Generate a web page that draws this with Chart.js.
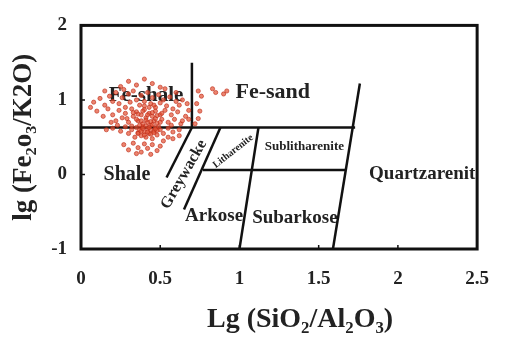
<!DOCTYPE html>
<html>
<head>
<meta charset="utf-8">
<script src="https://cdn.jsdelivr.net/npm/chart.js@4/dist/chart.umd.min.js"></script>
<style>
    html, body { margin: 0; padding: 0; background: #fff; }
    #wrap { width: 508px; height: 338px; }
</style>
</head>
<body>
<div id="wrap"><canvas id="herronChart"></canvas></div>
<script>
// Samples: lg(SiO2/Al2O3), lg(Fe2O3/K2O)
const sampleX = [
    0.08, 0.12, 0.15, 0.18, 0.20, 0.22, 0.24, 0.26, 0.28, 0.30, 0.31, 0.33, 0.35, 0.37, 0.38, 0.40, 0.42,
    0.44, 0.45, 0.47, 0.49, 0.50, 0.52, 0.54, 0.56, 0.58, 0.60, 0.62, 0.64, 0.25, 0.35, 0.45, 0.30,
    0.10, 0.14, 0.17, 0.20, 0.22, 0.24, 0.26, 0.28, 0.30, 0.32, 0.33, 0.35, 0.36, 0.38, 0.39, 0.40, 0.41,
    0.42, 0.43, 0.44, 0.45, 0.46, 0.47, 0.48, 0.50, 0.51, 0.53, 0.55, 0.57, 0.59, 0.61, 0.63, 0.66, 0.68,
    0.20, 0.25, 0.28, 0.30, 0.32, 0.34, 0.35, 0.36, 0.37, 0.38, 0.39, 0.40, 0.41, 0.42, 0.43, 0.44, 0.45,
    0.46, 0.47, 0.48, 0.50, 0.52, 0.55, 0.58, 0.62,
    0.27, 0.30, 0.33, 0.36, 0.38, 0.40, 0.42, 0.45, 0.48, 0.50, 0.44, 0.35,
    0.74, 0.76, 0.73, 0.75, 0.74, 0.72, 0.83, 0.85, 0.90, 0.92,
    0.36, 0.38, 0.40, 0.42, 0.44, 0.46, 0.48, 0.37, 0.39, 0.41, 0.43, 0.45, 0.47, 0.49, 0.35,
    0.38, 0.41, 0.44, 0.47, 0.50, 0.33, 0.36, 0.39, 0.42, 0.45, 0.48, 0.51, 0.40, 0.43, 0.46,
    0.06, 0.15, 0.19, 0.27, 0.32, 0.53, 0.57, 0.60, 0.64, 0.67, 0.23, 0.29, 0.55, 0.16, 0.52,
    0.58, 0.62, 0.68, 0.40, 0.50
];
const sampleY = [
    0.97, 1.02, 0.93, 1.05, 0.98, 1.10, 0.95, 1.03, 0.90, 1.08, 0.97, 1.12, 1.00, 0.93, 1.06, 0.98, 1.10,
    0.95, 1.03, 0.90, 1.07, 0.96, 1.00, 0.92, 1.04, 0.88, 0.98, 0.93, 1.00, 1.18, 1.20, 1.22, 1.25,
    0.85, 0.78, 0.88, 0.80, 0.72, 0.86, 0.76, 0.82, 0.70, 0.88, 0.78, 0.84, 0.72, 0.80, 0.68, 0.87, 0.76,
    0.70, 0.82, 0.66, 0.78, 0.72, 0.85, 0.69, 0.80, 0.74, 0.86, 0.70, 0.80, 0.74, 0.84, 0.68, 0.78, 0.86,
    0.62, 0.58, 0.64, 0.55, 0.60, 0.50, 0.63, 0.56, 0.60, 0.52, 0.64, 0.57, 0.50, 0.61, 0.55, 0.60, 0.48,
    0.58, 0.63, 0.53, 0.60, 0.55, 0.62, 0.57, 0.60,
    0.40, 0.33, 0.42, 0.36, 0.30, 0.41, 0.35, 0.40, 0.32, 0.38, 0.27, 0.28,
    1.12, 1.05, 0.95, 0.85, 0.75, 0.68, 1.15, 1.10, 1.08, 1.12,
    0.55, 0.58, 0.53, 0.57, 0.54, 0.56, 0.59, 0.66, 0.62, 0.65, 0.63, 0.67, 0.61, 0.64, 0.74,
    0.72, 0.73, 0.71, 0.75, 0.70, 0.83, 0.81, 0.85, 0.80, 0.83, 0.79, 0.82, 0.92, 0.90, 0.93,
    0.90, 1.12, 0.70, 1.14, 0.65, 1.15, 0.66, 1.10, 0.72, 0.95, 0.66, 0.75, 0.50, 0.60, 0.45,
    0.48, 0.52, 0.74, 1.28, 1.17
];

// Field boundaries, each as [start, end]
const boundaryX = [
    [0.00, 1.73],   // Fe-shale / Shale
    [0.70, 0.70],   // Fe-shale / Fe-sand
    [1.76, 1.59],   // Quartzarenite
    [0.77, 1.67],   // Litharenite / Arkose
    [1.12, 1.00],   // Sublitharenite / Subarkose
    [0.70, 0.54],   // Greywacke left
    [0.88, 0.65]    // Greywacke right
];
const boundaryY = [
    [0.63, 0.63],
    [0.63, 1.50],
    [1.22, -1.00],
    [0.06, 0.06],
    [0.63, -1.00],
    [0.63, -0.04],
    [0.63, -0.47]
];

// Field names and where they sit on the diagram
const fieldNames = ['Fe-shale', 'Fe-sand', 'Shale', 'Greywacke', 'Litharenite', 'Sublitharenite', 'Quartzarenite', 'Arkose', 'Subarkose'];
const fieldX = [0.41, 1.21, 0.29, 0.65, 0.96, 1.41, 2.18, 0.84, 1.35];
const fieldY = [1.06, 1.10, 0.00, 0.00, 0.31, 0.38, 0.00, -0.56, -0.59];

const xMin = 0, xMax = 2.5, xStep = 0.5;
const yMin = -1, yMax = 2, yStep = 1;

// label look (size px, rotation deg)
const fieldStyle = {
    'Fe-shale': [21, 0], 'Fe-sand': [22, 0], 'Shale': [20, 0],
    'Greywacke': [16, -60], 'Litharenite': [10, -38], 'Sublitharenite': [13, 0],
    'Quartzarenite': [19, 0], 'Arkose': [19, 0], 'Subarkose': [19, 0]
};

const serif = "'Liberation Serif', 'DejaVu Serif', serif";

const samplePoints = sampleX.map((x, i) => ({ x: x, y: sampleY[i] }));

const boundarySets = boundaryX.map((xs, i) => ({
    data: [{ x: xs[0], y: boundaryY[i][0] }, { x: xs[1], y: boundaryY[i][1] }],
    showLine: true,
    borderColor: '#111',
    borderWidth: 2.5,
    pointRadius: 0,
    order: 2
}));

// frame, inward ticks and field names
const diagramPlugin = {
    id: 'diagram',
    beforeDatasetsDraw(chart) {
        const { ctx, scales: { x, y } } = chart;
        ctx.save();
        ctx.fillStyle = '#222';
        ctx.textAlign = 'center';
        ctx.textBaseline = 'middle';
        fieldNames.forEach((name, i) => {
            const st = fieldStyle[name];
            ctx.save();
            ctx.translate(x.getPixelForValue(fieldX[i]), y.getPixelForValue(fieldY[i]));
            ctx.rotate(st[1] * Math.PI / 180);
            ctx.font = 'bold ' + st[0] + 'px ' + serif;
            ctx.fillText(name, 0, 0);
            ctx.restore();
        });
        ctx.restore();
    },
    afterDatasetsDraw(chart) {
        const { ctx, chartArea: a, scales: { x, y } } = chart;
        ctx.save();
        // white strip past the right frame hides overflowing label text
        ctx.fillStyle = '#fff';
        ctx.fillRect(a.right, a.top, chart.width - a.right, a.bottom - a.top);
        ctx.strokeStyle = '#111';
        ctx.lineWidth = 3;
        ctx.strokeRect(a.left, a.top, a.right - a.left, a.bottom - a.top);
        ctx.lineWidth = 1.5;
        ctx.beginPath();
        x.ticks.forEach(t => {
            const px = x.getPixelForValue(t.value);
            ctx.moveTo(px, a.bottom);
            ctx.lineTo(px, a.bottom - 4);
        });
        y.ticks.forEach(t => {
            const py = y.getPixelForValue(t.value);
            ctx.moveTo(a.left, py);
            ctx.lineTo(a.left + 4, py);
        });
        ctx.stroke();
        ctx.restore();
    }
};

new Chart(document.getElementById('herronChart'), {
    type: 'scatter',
    data: {
        datasets: [{
            data: samplePoints,
            backgroundColor: 'rgba(226, 80, 50, 0.7)',
            borderColor: 'rgba(190, 45, 25, 0.8)',
            borderWidth: 0.8,
            pointRadius: 2.1,
            order: 1
        }, ...boundarySets]
    },
    options: {
        responsive: true,
        maintainAspectRatio: false,
        animation: false,
        layout: { padding: { top: 17, right: 17, left: 0, bottom: 0 } },
        plugins: { legend: { display: false }, tooltip: { enabled: false } },
        scales: {
            x: {
                type: 'linear',
                min: xMin,
                max: xMax,
                afterFit: s => { s.height = 89; },
                border: { display: false },
                grid: { display: false, drawTicks: false },
                ticks: {
                    stepSize: xStep,
                    padding: 19,
                    color: '#222',
                    callback: v => String(v),
                    font: { family: serif, size: 19, weight: 'bold' }
                },
                title: {
                    display: true,
                    text: '      Lg (SiO\u2082/Al\u2082O\u2083)',
                    color: '#222',
                    padding: { top: 0, bottom: 1 },
                    font: { family: serif, size: 28, weight: 'bold' }
                }
            },
            y: {
                type: 'linear',
                min: yMin,
                max: yMax,
                afterFit: s => { s.width = 81; },
                border: { display: false },
                grid: { display: false, drawTicks: false },
                ticks: {
                    stepSize: yStep,
                    padding: 14,
                    color: '#222',
                    font: { family: serif, size: 19, weight: 'bold' }
                },
                title: {
                    display: true,
                    text: 'lg (Fe\u2082o\u2083/K2O)',
                    color: '#222',
                    padding: { top: 8, bottom: 0 },
                    font: { family: serif, size: 27, weight: 'bold' }
                }
            }
        }
    },
    plugins: [diagramPlugin]
});
</script>
</body>
</html>
